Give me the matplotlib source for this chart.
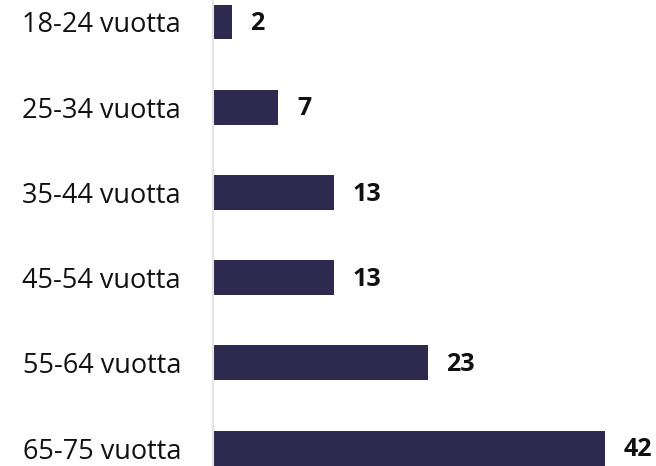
import matplotlib
matplotlib.use("Agg")
import matplotlib.pyplot as plt

categories = ["18-24 vuotta", "25-34 vuotta", "35-44 vuotta", "45-54 vuotta", "55-64 vuotta", "65-75 vuotta"]
values = [2, 7, 13, 13, 23, 42]

plt.rcParams['font.family'] = ['Open Sans', 'DejaVu Sans']

fig = plt.figure(figsize=(6.56, 4.66), dpi=100)
ax = fig.add_axes([213/656, 0, 1 - 213/656, 1])
y = list(range(len(categories)))
ax.barh(y, values, height=0.41, color="#2e2a4f")
ax.set_xlim(0, 47.5)
ax.set_ylim(5.21, -0.258)
for s in ["top", "right", "bottom"]:
    ax.spines[s].set_visible(False)
ax.spines["left"].set_color("#e4e4e4")
ax.spines["left"].set_linewidth(1.5)
ax.set_xticks([])
ax.set_yticks(y)
ax.set_yticklabels(categories, fontsize=19.5, color="#111111")
ax.tick_params(axis="y", length=0, pad=23)
for yi, v in zip(y, values):
    ax.text(v + 2.0, yi + 0.02, str(v), va="center", ha="left", fontsize=18, fontweight="bold", color="#111111")
fig.savefig("out.png", dpi=100)
